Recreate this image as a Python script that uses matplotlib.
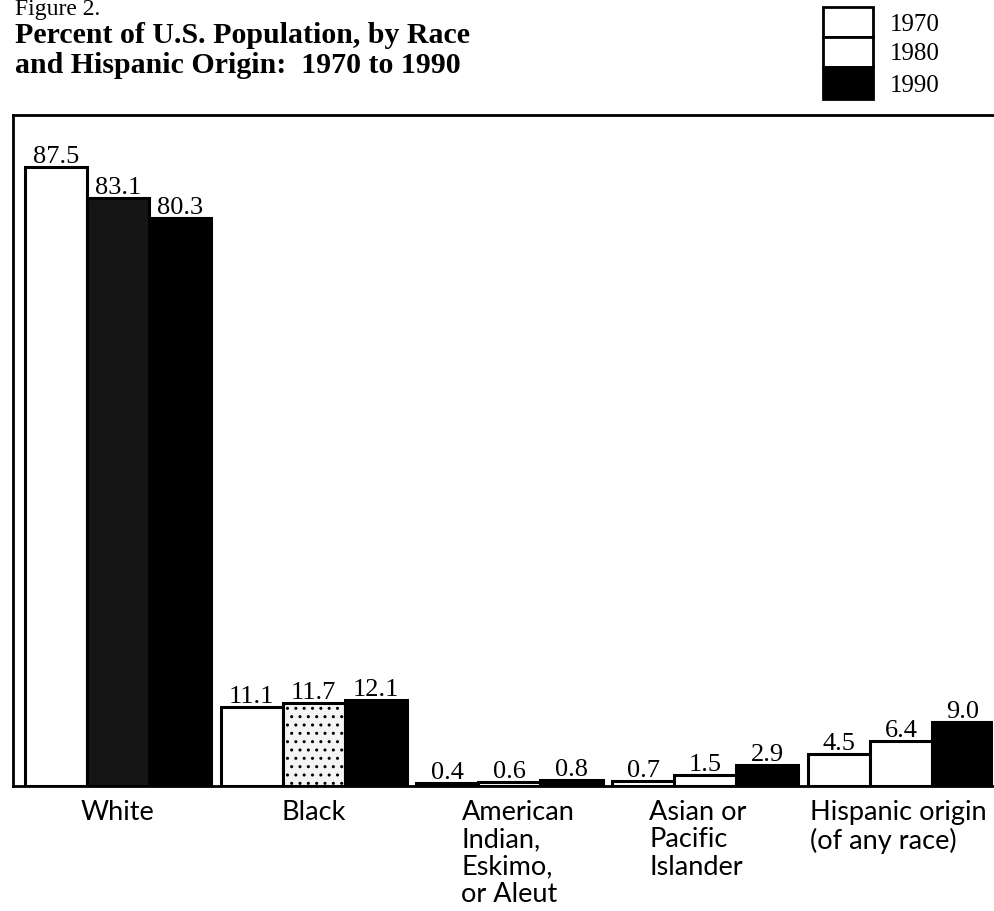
import numpy as np
import matplotlib.pyplot as plt
from matplotlib.patches import Rectangle
from matplotlib.transforms import blended_transform_factory, offset_copy

# --------------------------------
# Data
# --------------------------------
Categories = ["White", "Black", "American\nIndian,\nEskimo,\nor Aleut",
              "Asian or\nPacific\nIslander", "Hispanic origin\n(of any race)"]
Years = ["1970", "1980", "1990"]
Pct1970 = [87.5, 11.1, 0.4, 0.7, 4.5]
Pct1980 = [83.1, 11.7, 0.6, 1.5, 6.4]
Pct1990 = [80.3, 12.1, 0.8, 2.9, 9.0]

# styles (the 1980 screen came out very unevenly in the scan)
Face1970 = ["white"] * 5
Face1980 = ["#151515", "#f4f4f4", "white", "white", "white"]
Face1990 = ["black"] * 5
# label placement: (horizontal alignment, shift from group centre in x units)
LabelPlace = [("center", 0.0), ("center", 0.0), ("left", -0.245),
              ("left", -0.286), ("left", -0.465)]

SERIF = "Liberation Serif"
SANS = "Lato"

fig = plt.figure(figsize=(9.95, 9.12), dpi=100)
W, H = 995.0, 912.0
ax = fig.add_axes([13 / W, 1 - 787 / H, (993 - 13) / W, (787 - 116) / H])

x = np.arange(len(Categories))
bw = 0.317
series = [(Pct1970, Face1970, -bw), (Pct1980, Face1980, 0.0), (Pct1990, Face1990, bw)]

for vals, faces, off in series:
    bars = ax.bar(x + off, vals, width=bw, color=faces, edgecolor="black",
                  linewidth=2.2, zorder=2)
    if vals is Pct1980:
        bars[1].set_hatch("..")
    for xi, v in zip(x + off, vals):
        tr = offset_copy(ax.transData, fig=fig, x=0, y=5, units="dots")
        ax.text(xi, v, f"{v:.1f}", transform=tr, ha="center", va="baseline",
                fontsize=19, family=SERIF, color="black")

ax.set_xlim(-0.536, 4.47)
ax.set_ylim(0, 94.8)
ax.set_xticks([])
ax.set_yticks([])
ax.spines["right"].set_visible(False)
for s in ["left", "top", "bottom"]:
    ax.spines[s].set_linewidth(2)

# category labels under the baseline
trans = blended_transform_factory(ax.transData, ax.transAxes)
trans = offset_copy(trans, fig=fig, x=0, y=-13, units="dots")
for xi, lab, (ha, dx) in zip(x, Categories, LabelPlace):
    ax.text(xi + dx, 0, lab, transform=trans, ha=ha, va="top",
            multialignment="left", fontsize=19.5, family=SANS,
            linespacing=1.12, color="black")

# title block
fig.text(15 / W, 1 - 15 / H, "Figure 2.", fontsize=17, family=SERIF,
         va="baseline", ha="left")
fig.text(15 / W, 1 - 43 / H, "Percent of U.S. Population, by Race",
         fontsize=21.5, family=SERIF, weight="bold", va="baseline", ha="left")
fig.text(15 / W, 1 - 73 / H, "and Hispanic Origin:  1970 to 1990",
         fontsize=21.5, family=SERIF, weight="bold", va="baseline", ha="left")

# stacked legend boxes
box_x0, box_x1 = 823, 873
box_y = [8, 38, 68, 100]
legend_faces = ["white", "white", "black"]
legend_text_y = [25, 54, 86]
for i, yr in enumerate(Years):
    y0, y1 = box_y[i], box_y[i + 1]
    fig.patches.append(Rectangle((box_x0 / W, 1 - y1 / H),
                                 (box_x1 - box_x0) / W, (y1 - y0) / H,
                                 transform=fig.transFigure,
                                 facecolor=legend_faces[i], edgecolor="black",
                                 linewidth=2))
    fig.text(890 / W, 1 - legend_text_y[i] / H, yr, fontsize=18, family=SERIF,
             va="center", ha="left")

fig.savefig("out.png", dpi=100)
